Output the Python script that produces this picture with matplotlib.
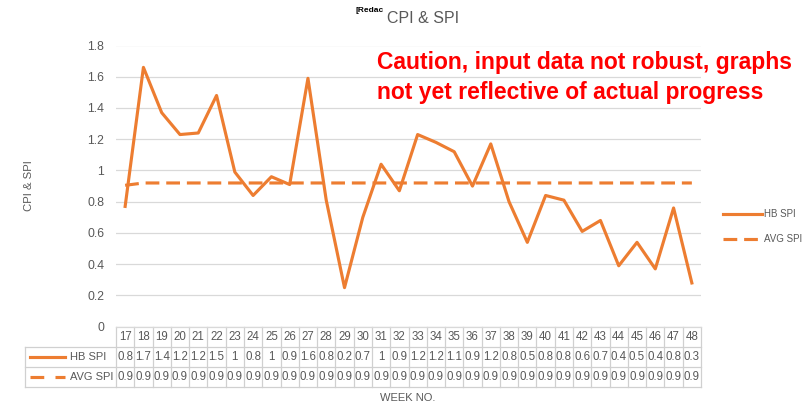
import numpy as np
import matplotlib
matplotlib.use("Agg")
import matplotlib.pyplot as plt
import matplotlib.transforms as mtransforms
from matplotlib.lines import Line2D

plt.rcParams['font.family'] = ['Liberation Sans', 'DejaVu Sans']

weeks = list(range(17, 49))
hb_spi = [0.77, 1.66, 1.37, 1.23, 1.24, 1.48, 0.99, 0.84, 0.96, 0.91,
          1.59, 0.81, 0.25, 0.70, 1.04, 0.87, 1.23, 1.18, 1.12, 0.90,
          1.17, 0.80, 0.54, 0.84, 0.81, 0.61, 0.68, 0.39, 0.54, 0.37,
          0.76, 0.28]
avg_spi = [0.905] + [0.92] * 31
yticks = [0, 0.2, 0.4, 0.6, 0.8, 1.0, 1.2, 1.4, 1.6, 1.8]

ORANGE = '#ED7D31'
GRAY = '#595959'
GRID = '#D9D9D9'
W, H = 802, 408


def fx(px):
    return px / W


def fy(py):
    return 1 - py / H


def fmt(v):
    return '{:g}'.format(round(v, 1))


fig = plt.figure(figsize=(W / 100, H / 100), dpi=100)
ax_left, ax_right, ax_top, ax_bot = 116, 701, 45.5, 326.7
ax = fig.add_axes([fx(ax_left), fy(ax_bot), (ax_right - ax_left) / W,
                   (ax_bot - ax_top) / H])

x = np.arange(len(weeks))
ax.plot(x, hb_spi, color=ORANGE, lw=2.25, label='HB SPI')
ax.plot(x, avg_spi, color=ORANGE, lw=2.25, dashes=(4.4, 2.2), label='AVG SPI')

ax.set_xlim(-0.5, len(weeks) - 0.5)
ax.set_ylim(0, 1.8)
ax.set_yticks(yticks)
ax.set_yticklabels([fmt(t) for t in yticks])
ax.set_xticks([])
ax.tick_params(axis='y', length=0, pad=8.5, labelsize=8.8, labelcolor=GRAY)
ax.grid(axis='y', color=GRID, lw=0.9)
ax.set_axisbelow(True)
for s in ['top', 'right', 'left']:
    ax.spines[s].set_visible(False)
ax.spines['bottom'].set_color(GRID)
ax.spines['bottom'].set_linewidth(0.9)

# data table under the plot
rh = 20 / (ax_bot - ax_top)
lab_x0 = (25 - ax_left) / (ax_right - ax_left)
blend = mtransforms.blended_transform_factory(ax.transData, ax.transAxes)
tcol = '#D0D0D0'
for b in np.arange(-0.5, len(weeks), 1.0):
    ax.plot([b, b], [0, -3 * rh], transform=blend, color=tcol, lw=0.9, clip_on=False)
for r in (1, 2, 3):
    ax.plot([lab_x0, 1], [-r * rh, -r * rh], transform=ax.transAxes,
            color=tcol, lw=0.9, clip_on=False)
ax.plot([lab_x0, lab_x0], [-rh, -3 * rh], transform=ax.transAxes,
        color=tcol, lw=0.9, clip_on=False)

rows = [[str(w) for w in weeks], [fmt(v) for v in hb_spi], [fmt(v) for v in avg_spi]]
for r, row in enumerate(rows):
    for i, t in enumerate(row):
        ax.text(i, -(r + 0.5) * rh, t, transform=blend, ha='center', va='center',
                fontsize=8.3, color=GRAY, clip_on=False)

# row labels with line samples
for r, (name, dash) in enumerate([('HB SPI', None), ('AVG SPI', (4.4, 3.6))], start=1):
    yc = 327 + 20 * r + 10
    ln = Line2D([fx(30), fx(65)], [fy(yc), fy(yc)], transform=fig.transFigure,
                color=ORANGE, lw=2.25)
    if dash:
        ln.set_dashes(dash)
    fig.add_artist(ln)
    fig.text(fx(70), fy(yc), name, ha='left', va='center', fontsize=8, color=GRAY)

# legend on the right
for yc, name, dash in [(214, 'HB SPI', None), (239, 'AVG SPI', (4.4, 2.2))]:
    ln = Line2D([fx(723), fx(762)], [fy(yc), fy(yc)], transform=fig.transFigure,
                color=ORANGE, lw=2.25)
    if dash:
        ln.set_dashes(dash)
    fig.add_artist(ln)
    fig.text(fx(764), fy(yc), name, ha='left', va='center', fontsize=7, color=GRAY)

# titles and labels
fig.text(fx(387), fy(18.5), 'CPI & SPI', ha='left', va='center', fontsize=11.5, color=GRAY)
fig.text(fx(355), fy(10), '[Redac', ha='left', va='center', fontsize=6,
         fontweight='bold', color='black')
fig.text(fx(29), fy(186), 'CPI & SPI', rotation=90, ha='center', va='center',
         fontsize=8.2, color=GRAY)
fig.text(fx(408), fy(398), 'WEEK NO.', ha='center', va='center', fontsize=8, color=GRAY)

caution = ['Caution, input data not robust, graphs',
           'not yet reflective of actual progress']
for yc, line in zip([62, 93], caution):
    fig.text(fx(377), fy(yc), line, ha='left', va='center', fontsize=16.5,
             fontweight='bold', color='#FF0000')

fig.savefig('out.png', dpi=100)
